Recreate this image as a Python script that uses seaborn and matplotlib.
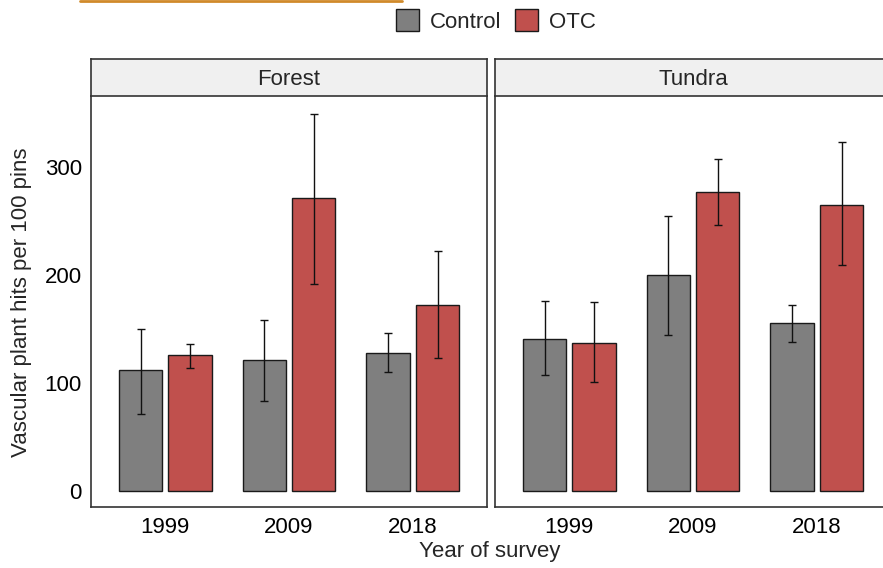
import matplotlib
matplotlib.use("Agg")
import matplotlib.pyplot as plt
from matplotlib.lines import Line2D
from matplotlib.patches import Patch
import numpy as np
import pandas as pd
import seaborn as sns

# ---- data: mean vascular plant hits per 100 pins with error bar limits ----
sites = ["Forest", "Tundra"]
years = ["1999", "2009", "2018"]
treatments = ["Control", "OTC"]

forest_control = [112, 121, 128]
forest_control_lo = [71, 83, 110]
forest_control_hi = [150, 158, 146]

forest_otc = [126, 271, 172]
forest_otc_lo = [114, 192, 123]
forest_otc_hi = [136, 349, 222]

tundra_control = [141, 200, 155]
tundra_control_lo = [107, 144, 138]
tundra_control_hi = [176, 255, 172]

tundra_otc = [137, 277, 265]
tundra_otc_lo = [101, 246, 209]
tundra_otc_hi = [175, 308, 323]

colors = {"Control": "#7F7F7F", "OTC": "#C0504D"}

series = {
    ("Forest", "Control"): (forest_control, forest_control_lo, forest_control_hi),
    ("Forest", "OTC"): (forest_otc, forest_otc_lo, forest_otc_hi),
    ("Tundra", "Control"): (tundra_control, tundra_control_lo, tundra_control_hi),
    ("Tundra", "OTC"): (tundra_otc, tundra_otc_lo, tundra_otc_hi),
}

rows = []
for (site, trt), (m, lo, hi) in series.items():
    for y, mv, l, h in zip(years, m, lo, hi):
        rows.append(dict(site=site, year=y, treatment=trt, mean=mv, lo=l, hi=h))
df = pd.DataFrame(rows)

# ---- styling ----
sns.set_style("white")
plt.rcParams["font.family"] = ["Liberation Sans", "DejaVu Sans"]
FS = 16
EDGE = "#333333"

W, H = 883, 568
fig = plt.figure(figsize=(W / 100, H / 100), dpi=100)


def px_box(x0, y0, x1, y1):
    """Pixel box (top-left origin) -> figure fraction rect."""
    return [x0 / W, 1 - y1 / H, (x1 - x0) / W, (y1 - y0) / H]


panel_top, panel_bottom = 95.5, 506.7
strip_top = 59.5
panel_lefts = [91, 495]
panel_width = 396

for i, site in enumerate(sites):
    x0 = panel_lefts[i]
    ax = fig.add_axes(px_box(x0, panel_top, x0 + panel_width, panel_bottom))
    sub = df[df.site == site]
    sns.barplot(data=sub, x="year", y="mean", hue="treatment",
                order=years, hue_order=treatments, palette=colors,
                width=0.8, gap=0.125, saturation=1, errorbar=None,
                edgecolor="#1a1a1a", linewidth=1.0, legend=False, ax=ax)

    # error bars positioned at each drawn bar's centre
    for trt, cont in zip(treatments, ax.containers):
        s = sub[sub.treatment == trt].set_index("year").loc[years]
        xs = [b.get_x() + b.get_width() / 2 for b in cont]
        m = s["mean"].to_numpy()
        yerr = np.vstack([m - s["lo"].to_numpy(), s["hi"].to_numpy() - m])
        ax.errorbar(xs, m, yerr=yerr, fmt="none", ecolor="#111111",
                    elinewidth=1.0, capsize=3.2, capthick=1.0, zorder=5)

    ax.set_xlim(-0.6, 2.6)
    ax.set_ylim(-15, 366.5)
    ax.set_yticks([0, 100, 200, 300])
    ax.set_xlabel("")
    ax.set_ylabel("")
    for sp in ax.spines.values():
        sp.set_visible(True)
        sp.set_color(EDGE)
        sp.set_linewidth(1.2)
    ax.spines["top"].set_visible(False)
    ax.tick_params(axis="both", direction="out", length=3.6, width=1.0,
                   color=EDGE, labelsize=FS, labelcolor="black")
    ax.tick_params(axis="x", pad=4)
    ax.tick_params(axis="y", pad=3)
    if i > 0:
        ax.tick_params(axis="y", left=False, labelleft=False)

    # facet strip
    sax = fig.add_axes(px_box(x0, strip_top, x0 + panel_width, panel_top))
    sax.set_facecolor("#F0F0F0")
    sax.set_xticks([])
    sax.set_yticks([])
    for sp in sax.spines.values():
        sp.set_visible(True)
        sp.set_color(EDGE)
        sp.set_linewidth(1.2)
    sax.text(0.5, 0.45, site, ha="center", va="center", fontsize=FS,
             transform=sax.transAxes)

# axis titles
fig.text(22 / W, 1 - 302 / H, "Vascular plant hits per 100 pins",
         rotation=90, ha="center", va="center", fontsize=FS)
fig.text(490 / W, 1 - 552 / H, "Year of survey",
         ha="center", va="center", fontsize=FS)

# legend
handles = [Patch(facecolor=colors[t], edgecolor="#1a1a1a", linewidth=1.0)
           for t in treatments]
fig.legend(handles, treatments, loc="center", ncol=2,
           bbox_to_anchor=(496 / W, 1 - 21 / H), frameon=False,
           fontsize=FS, handlelength=1.05, handleheight=1.1,
           handletextpad=0.5, columnspacing=0.6, borderpad=0)

# accent rule along the top edge
fig.add_artist(Line2D([80 / W, 402 / W], [1 - 1.2 / H, 1 - 1.2 / H],
                      color="#D08A2A", linewidth=2.0,
                      transform=fig.transFigure))

fig.savefig("out.png", dpi=100)
